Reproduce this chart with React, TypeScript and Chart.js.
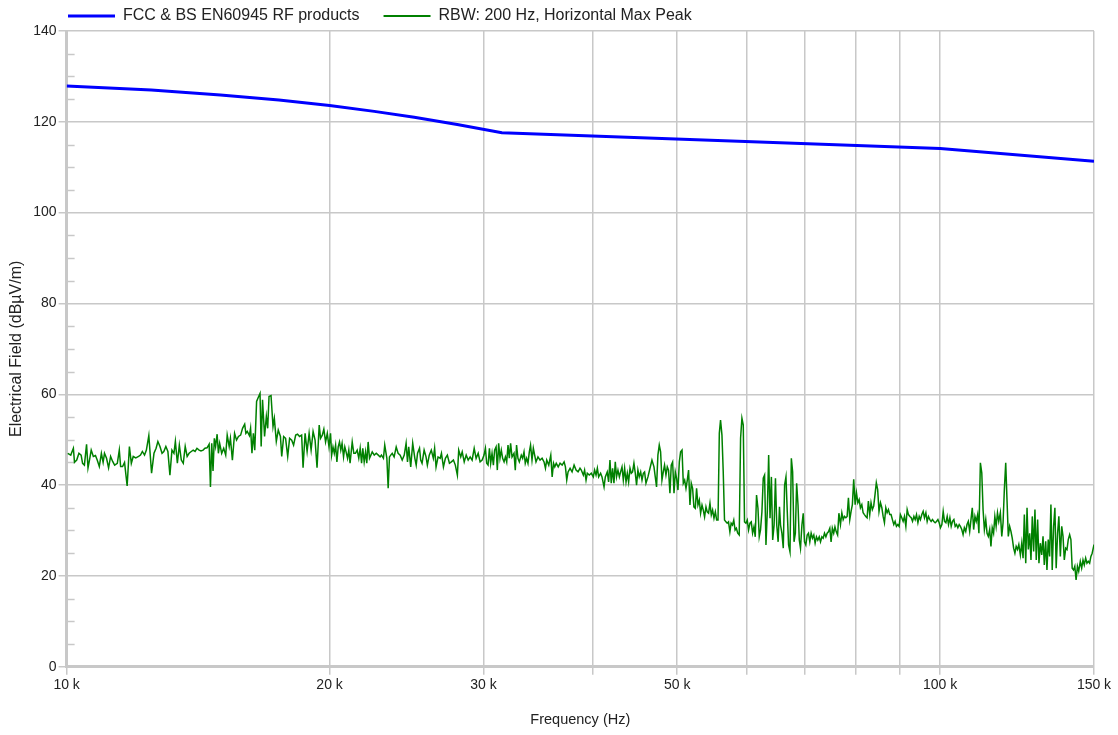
import React, { useEffect, useRef } from "react";
import { Chart, registerables } from "chart.js";

Chart.register(...registerables);

// ---------- data ----------
const limitName = "FCC & BS EN60945 RF products";
const traceName = "RBW: 200 Hz, Horizontal Max Peak";

// limit line: frequency (kHz) / level (dBµV/m)
const limitFreqKHz = [10, 12.5, 15, 17.5, 20, 22.5, 25, 28, 31.5, 100, 150];
const limitLevel = [127.9, 127.0, 125.9, 124.8, 123.6, 122.3, 121.0, 119.4, 117.6, 114.1, 111.3];

// measured trace, [frequency kHz, level dBµV/m]
const traceSeg1: [number, number][] = [
  [10.03, 47.0], [10.11, 46.6], [10.18, 48.1], [10.21, 45.0], [10.27, 45.5], [10.33, 47.0], [10.39, 46.6], [10.43, 44.8],
  [10.48, 44.4], [10.54, 49.0], [10.58, 43.8], [10.63, 45.9], [10.67, 47.7], [10.73, 46.3], [10.79, 46.5], [10.84, 45.5],
  [10.90, 44.1], [10.96, 47.0], [11.01, 45.0], [11.05, 47.0], [11.11, 45.9], [11.17, 43.8], [11.23, 46.3], [11.29, 45.2],
  [11.35, 44.4], [11.43, 44.8], [11.49, 47.7], [11.53, 44.1], [11.59, 44.1], [11.65, 45.0], [11.73, 39.8], [11.80, 48.5],
  [11.86, 44.8], [11.92, 46.3], [12.00, 46.0], [12.09, 46.3], [12.15, 46.6], [12.21, 47.4], [12.28, 46.6], [12.34, 47.7],
  [12.42, 50.9], [12.51, 42.6], [12.59, 47.0], [12.66, 48.1], [12.72, 49.6], [12.79, 48.5], [12.86, 47.0], [12.92, 47.4],
  [12.99, 48.5], [13.06, 47.4], [13.13, 42.2], [13.20, 47.7], [13.27, 47.0], [13.32, 49.6], [13.39, 44.8], [13.46, 48.8],
  [13.53, 45.5], [13.60, 44.8], [13.67, 48.5], [13.74, 46.3], [13.81, 47.0], [13.89, 47.4], [13.96, 47.7], [14.03, 47.4],
  [14.10, 48.1], [14.18, 47.7], [14.25, 47.5], [14.33, 47.7], [14.40, 48.1], [14.48, 48.2], [14.56, 49.0], [14.61, 39.6],
  [14.66, 49.2], [14.71, 43.1], [14.76, 50.3], [14.81, 48.5], [14.87, 51.2], [14.92, 47.0], [14.97, 49.2], [15.05, 47.0],
  [15.13, 48.1], [15.21, 46.6], [15.27, 51.0], [15.35, 48.5], [15.40, 50.3], [15.48, 45.5], [15.57, 51.4], [15.65, 49.9],
  [15.73, 50.7], [15.82, 51.0], [15.90, 52.5], [15.99, 53.4], [16.04, 51.4], [16.10, 51.8], [16.19, 50.9], [16.24, 52.5],
  [16.30, 47.0], [16.36, 51.4], [16.42, 47.7], [16.50, 58.4], [16.59, 59.5], [16.65, 60.2], [16.70, 48.5], [16.76, 58.8],
  [16.85, 50.7], [16.93, 55.1], [16.99, 52.5], [17.05, 59.5], [17.14, 59.7], [17.23, 52.9], [17.29, 54.7], [17.38, 49.6],
  [17.47, 52.1], [17.57, 50.7], [17.63, 46.3], [17.72, 50.7], [17.81, 50.3], [17.91, 46.3], [18.00, 50.3], [18.10, 49.9],
  [18.19, 48.8], [18.29, 51.0], [18.38, 51.2], [18.48, 50.7], [18.58, 51.0], [18.65, 43.8], [18.75, 51.4], [18.85, 47.4],
  [18.95, 51.4], [19.05, 47.7], [19.15, 51.8], [19.25, 49.9], [19.35, 43.8], [19.46, 53.2], [19.53, 50.3],
];

const traceSeg2: [number, number][] = [
  [19.62, 51.0], [19.70, 52.3], [19.79, 49.5], [19.88, 51.4], [19.97, 48.4], [20.05, 51.4], [20.11, 46.6], [20.18, 48.4],
  [20.25, 47.0], [20.32, 48.8], [20.39, 45.1], [20.46, 48.4], [20.53, 49.5], [20.60, 47.7], [20.67, 49.2], [20.75, 46.2],
  [20.82, 48.4], [20.89, 47.3], [20.97, 45.9], [21.04, 47.7], [21.11, 44.8], [21.23, 49.5], [21.32, 47.0], [21.41, 47.0],
  [21.51, 47.7], [21.60, 45.9], [21.68, 48.1], [21.76, 44.8], [21.83, 48.1], [21.91, 45.1], [21.99, 47.3], [22.06, 44.8],
  [22.14, 49.5], [22.22, 45.9], [22.30, 46.6], [22.38, 47.3], [22.50, 46.6], [22.62, 47.0], [22.74, 46.6], [22.85, 46.2],
  [22.93, 46.6], [23.05, 45.9], [23.13, 48.8], [23.26, 45.9], [23.34, 39.3], [23.42, 46.2], [23.50, 46.6], [23.59, 47.0],
  [23.71, 46.2], [23.84, 48.4], [23.96, 47.0], [24.09, 46.6], [24.22, 45.5], [24.35, 46.6], [24.47, 49.2], [24.56, 45.1],
  [24.64, 48.4], [24.77, 44.0], [24.90, 49.2], [25.04, 45.9], [25.13, 44.4], [25.22, 47.0], [25.35, 48.1], [25.43, 45.5],
  [25.52, 44.8], [25.66, 47.7], [25.79, 46.2], [25.88, 44.4], [26.01, 46.6], [26.15, 47.7], [26.29, 45.9], [26.38, 48.1],
  [26.48, 44.0], [26.62, 46.2], [26.77, 45.9], [26.86, 47.0], [27.00, 44.0], [27.14, 45.9], [27.28, 46.6], [27.43, 44.8],
  [27.57, 45.1], [27.72, 45.5], [27.86, 44.4], [28.01, 42.2], [28.11, 47.7], [28.26, 46.2], [28.37, 47.3], [28.52, 45.1],
  [28.67, 46.6], [28.82, 45.5], [28.97, 46.2], [29.12, 45.5], [29.28, 48.1], [29.43, 45.9], [29.59, 47.0], [29.74, 45.1],
  [29.90, 45.5], [30.05, 46.6], [30.16, 48.1], [30.26, 44.8], [30.37, 44.4], [30.48, 48.1], [30.58, 44.8], [30.69, 47.0],
  [30.80, 44.4], [30.90, 47.7], [31.02, 48.4], [31.12, 43.3], [31.23, 49.2], [31.34, 45.9], [31.45, 47.7], [31.56, 45.9],
  [31.68, 45.1], [31.79, 46.2], [31.90, 45.1], [32.01, 48.8], [32.12, 45.9], [32.23, 49.2], [32.35, 46.2], [32.52, 47.0],
  [32.63, 43.3], [32.74, 48.8], [32.86, 45.9], [32.98, 45.1], [33.15, 46.6], [33.27, 45.9], [33.39, 47.3], [33.50, 44.8],
  [33.62, 45.9], [33.74, 44.8], [33.86, 47.3], [33.97, 48.8], [34.10, 45.5], [34.22, 48.1], [34.34, 46.6], [34.46, 45.1],
  [34.64, 46.2], [34.83, 45.5], [35.02, 45.9], [35.20, 45.1], [35.33, 43.7], [35.45, 45.5], [35.64, 44.4], [35.83, 46.6],
  [35.96, 41.8], [36.09, 44.8], [36.21, 44.0], [36.35, 44.8], [36.54, 44.0], [36.72, 44.8], [36.92, 44.4], [37.11, 45.1],
  [37.24, 44.0], [37.37, 41.1], [37.50, 42.9], [37.70, 43.7], [37.90, 42.9], [38.10, 44.4], [38.30, 43.3], [38.50, 42.9],
  [38.70, 43.7],
];

const traceSeg3: [number, number][] = [
  [38.83, 43.3], [39.04, 42.2], [39.17, 43.3], [39.32, 41.1], [39.45, 42.6], [39.66, 42.2], [39.87, 42.6], [40.08, 41.8],
  [40.22, 43.3], [40.37, 42.2], [40.51, 43.7], [40.65, 41.8], [40.86, 42.6], [41.01, 41.8], [41.23, 39.6], [41.37, 41.8],
  [41.58, 42.9], [41.73, 40.7], [41.88, 45.5], [42.02, 40.4], [42.17, 43.7], [42.32, 40.4], [42.47, 45.1], [42.61, 41.8],
  [42.77, 43.3], [42.93, 41.8], [43.07, 42.9], [43.23, 44.0], [43.38, 41.1], [43.53, 43.7], [43.69, 40.7], [43.84, 42.6],
  [43.99, 40.7], [44.15, 43.7], [44.30, 42.6], [44.45, 42.9], [44.61, 44.8], [44.77, 42.6], [44.92, 40.0], [45.08, 43.3],
  [45.24, 41.8], [45.41, 42.9], [45.57, 41.1], [45.73, 42.6], [45.88, 42.9], [46.05, 40.4], [46.29, 41.8], [46.54, 43.7],
  [46.78, 45.5], [47.03, 44.0], [47.19, 41.8], [47.35, 39.6], [47.52, 46.6], [47.69, 48.8], [47.86, 47.3], [48.03, 41.1],
  [48.20, 42.9], [48.36, 44.4], [48.54, 42.2], [48.71, 44.0], [48.87, 43.3], [49.05, 38.2], [49.22, 44.4], [49.40, 45.1],
  [49.58, 38.2], [49.75, 42.9], [49.92, 41.5], [50.10, 38.9], [50.28, 45.1], [50.45, 47.3], [50.64, 47.7], [50.81, 40.4],
  [50.99, 41.1], [51.17, 39.3], [51.35, 41.1], [51.52, 43.3], [51.71, 35.6], [51.89, 40.4], [52.07, 39.3], [52.25, 35.2],
  [52.44, 34.9], [52.62, 39.3], [52.81, 35.6], [53.00, 36.7], [53.18, 33.8], [53.38, 35.6], [53.56, 34.5], [53.74, 33.0],
  [53.94, 35.2], [54.12, 34.1], [54.31, 33.8], [54.51, 36.0], [54.70, 33.4], [54.89, 34.5], [55.09, 32.7], [55.29, 34.1],
  [55.48, 32.3], [55.68, 32.3], [55.87, 51.4], [56.05, 54.3], [56.26, 51.0], [56.45, 42.9], [56.64, 32.3], [56.85, 31.9],
  [57.04, 31.6], [57.24, 31.9], [57.45, 29.7], [57.64, 31.6], [57.84, 31.2], [58.04, 32.3], [58.24, 30.1], [58.44, 30.5],
  [58.65, 29.4], [58.88, 29.0], [59.09, 50.3], [59.30, 54.7], [59.51, 53.2], [59.71, 31.9], [59.93, 31.6], [60.14, 32.3],
  [60.35, 30.1], [60.57, 31.6], [60.78, 31.9], [60.99, 29.4], [61.21, 30.8], [61.42, 28.6], [61.63, 37.8], [61.86, 34.9],
  [62.07, 28.6], [62.28, 30.1], [62.51, 34.1], [62.73, 41.5], [62.95, 42.2], [63.18, 26.8], [63.40, 34.1], [63.63, 46.6],
  [63.86, 32.7], [64.09, 41.8], [64.31, 27.9], [64.55, 31.2], [64.78, 41.5], [65.00, 31.2], [65.24, 27.5], [65.47, 35.2],
  [65.65, 31.2], [65.89, 29.4], [66.13, 26.1], [66.36, 40.0], [66.60, 41.8], [66.83, 34.1], [67.06, 26.8], [67.31, 25.3],
  [67.55, 45.9], [67.78, 42.9], [68.03, 27.5], [68.27, 29.4], [68.50, 40.4], [68.75, 35.6], [68.98, 27.9], [69.20, 26.1],
  [69.46, 31.2], [69.70, 33.8], [69.93, 27.5], [70.18, 26.8], [70.43, 29.0], [70.67, 29.4], [70.92, 27.5], [71.17, 29.4],
  [71.42, 28.3], [71.67, 29.0], [71.92, 27.2], [72.17, 28.6], [72.43, 27.9], [72.70, 28.6], [72.95, 27.5], [73.21, 28.6],
  [73.46, 28.3], [73.72, 29.4], [73.99, 28.6], [74.24, 29.4], [74.49, 29.7], [74.76, 30.5], [75.01, 27.5], [75.26, 30.5],
  [75.53, 29.4], [75.78, 30.8], [76.04, 29.7], [76.31, 29.0], [76.57, 33.8],
];

const traceSeg4: [number, number][] = [
  [76.89, 31.3], [77.17, 33.9], [77.44, 32.4], [77.70, 33.1], [77.99, 32.8], [78.25, 33.1], [78.52, 37.2], [78.80, 32.4],
  [79.07, 34.2], [79.34, 35.7], [79.62, 41.3], [79.92, 35.7], [80.20, 38.3], [80.49, 36.1], [80.77, 36.8], [81.04, 35.0],
  [81.34, 35.7], [81.62, 33.9], [81.90, 33.5], [82.20, 33.1], [82.48, 32.8], [82.76, 36.5], [83.06, 33.5], [83.34, 36.1],
  [83.63, 34.6], [83.93, 35.4], [84.22, 37.9], [84.51, 40.5], [84.81, 39.0], [85.11, 34.2], [85.44, 36.1], [85.75, 35.0],
  [86.04, 33.1], [86.34, 31.7], [86.65, 35.0], [86.95, 33.9], [87.25, 34.6], [87.56, 33.5], [87.86, 33.5], [88.17, 32.4],
  [88.49, 31.3], [88.80, 32.0], [89.11, 30.9], [89.43, 31.3], [89.74, 30.9], [90.05, 33.5], [90.38, 32.8], [90.70, 32.0],
  [91.02, 33.1], [91.35, 30.9], [91.67, 34.6], [91.98, 33.5], [92.33, 33.1], [92.65, 32.8], [92.97, 32.0], [93.31, 33.1],
  [93.63, 32.4], [93.95, 33.5], [94.30, 31.7], [94.62, 33.1], [94.93, 32.4], [95.28, 33.5], [95.61, 34.2], [95.94, 32.8],
  [96.30, 33.9], [96.63, 32.0], [96.96, 33.1], [97.32, 32.4], [97.65, 32.0], [97.99, 32.4], [98.35, 32.0], [98.69, 31.7],
  [99.03, 32.0], [99.40, 32.4], [99.74, 31.7], [100.08, 30.6], [100.45, 31.3], [100.80, 34.2], [101.15, 32.0], [101.52, 31.7],
  [101.87, 33.1], [102.22, 31.3], [102.59, 32.8], [102.95, 30.9], [103.30, 32.0], [103.68, 32.4], [104.04, 30.9], [104.40, 31.3],
  [104.77, 30.6], [105.14, 31.3], [105.47, 30.9], [105.86, 30.2], [106.22, 29.1], [106.58, 30.6], [106.97, 29.8], [107.33, 31.3],
  [107.70, 32.0], [108.09, 29.8], [108.46, 32.4], [108.83, 35.0], [109.23, 30.2], [109.60, 33.1], [109.97, 32.0], [110.38, 33.5],
  [110.75, 29.4], [111.18, 44.9], [111.59, 42.7], [111.97, 34.6], [112.36, 30.2], [112.77, 32.4], [113.15, 29.4], [113.53, 28.7],
  [113.94, 30.2], [114.32, 26.5], [114.71, 30.6], [115.12, 29.4], [115.50, 33.1], [115.89, 30.9], [116.31, 33.9], [116.70, 32.0],
  [117.19, 33.9], [117.63, 28.7], [118.03, 31.7], [118.43, 39.0], [118.86, 44.9], [119.26, 36.8], [119.67, 28.7], [120.10, 30.9],
  [120.51, 29.8], [120.92, 28.3], [121.36, 26.1], [121.77, 25.0], [122.18, 26.5], [122.62, 25.8], [123.04, 26.9], [123.54, 24.6],
  [123.99, 27.2], [124.42, 23.9], [124.84, 33.5], [125.30, 22.8], [125.73, 35.0], [126.16, 25.8], [126.61, 29.4], [127.04, 23.5],
  [127.48, 33.1], [127.94, 25.4], [128.38, 34.6], [128.82, 23.5], [129.29, 32.4], [129.74, 22.8], [130.21, 27.2], [130.69, 24.6],
  [131.14, 28.7], [131.58, 22.4], [132.06, 27.6], [132.51, 21.3], [132.96, 28.0], [133.44, 24.3], [133.90, 35.7], [134.36, 21.3],
  [134.85, 30.9], [135.31, 35.0], [135.77, 21.7], [136.27, 29.4], [136.73, 33.1], [137.26, 24.3], [137.77, 30.9], [138.24, 28.7],
  [138.71, 23.5], [139.22, 26.1], [139.69, 25.8], [140.16, 28.0], [140.67, 29.1], [141.14, 28.0], [141.62, 21.7], [142.13, 21.3],
  [142.60, 22.1], [143.08, 19.1], [143.59, 22.1], [144.07, 21.0], [144.68, 23.2], [145.21, 21.7], [145.71, 23.5], [146.20, 22.4],
  [146.74, 23.9], [147.24, 22.8], [147.74, 23.2], [148.28, 22.8], [148.78, 24.3], [149.28, 25.0], [150.00, 26.9],
];

// axis ticks
const xTickValues = [10000, 20000, 30000, 40000, 50000, 60000, 70000, 80000, 90000, 100000, 150000];
const xLabelledTicks = [10000, 20000, 30000, 50000, 100000, 150000];
const yMin = 0;
const yMax = 140;
const yMajorStep = 20;
const yMinorStep = 5;

// ---------- styling ----------
const FONT = "'Liberation Sans', Arial, sans-serif";
const GRID = "#c8c8c8";
const TEXT = "#222222";
const LIMIT_COLOR = "#0000ff";
const TRACE_COLOR = "#008000";

const minorTickPlugin = {
  id: "minorTicks",
  beforeDatasetsDraw(chart: any) {
    const y = chart.scales.y;
    const ctx = chart.ctx;
    const left = chart.chartArea.left;
    ctx.save();
    ctx.strokeStyle = GRID;
    ctx.lineWidth = 1.5;
    for (let v = yMin + yMinorStep; v < yMax; v += yMinorStep) {
      if (v % yMajorStep === 0) continue;
      const py = Math.round(y.getPixelForValue(v)) + 0.5;
      ctx.beginPath();
      ctx.moveTo(left, py);
      ctx.lineTo(left + 8, py);
      ctx.stroke();
    }
    ctx.restore();
  },
};

const legendPlugin = {
  id: "topLegend",
  afterDraw(chart: any) {
    const ctx = chart.ctx;
    const cy = 16;
    ctx.save();
    ctx.font = `16px ${FONT}`;
    ctx.textBaseline = "middle";
    ctx.textAlign = "left";
    let x = 68;
    chart.data.datasets.forEach((ds: any, i: number) => {
      ctx.strokeStyle = ds.borderColor;
      ctx.lineWidth = i === 0 ? 3 : 2;
      ctx.beginPath();
      ctx.moveTo(x, cy);
      ctx.lineTo(x + 47, cy);
      ctx.stroke();
      ctx.fillStyle = TEXT;
      ctx.fillText(ds.label, x + 55, cy);
      x = x + 55 + ctx.measureText(ds.label).width + 24;
    });
    ctx.restore();
  },
};

export default function App() {
  const ref = useRef<HTMLCanvasElement>(null);
  useEffect(() => {
    if (!ref.current) return;
    const trace = [...traceSeg1, ...traceSeg2, ...traceSeg3, ...traceSeg4].map(([f, v]) => ({ x: f * 1000, y: v }));
    const limit = limitFreqKHz.map((f, i) => ({ x: f * 1000, y: limitLevel[i] }));
    const chart = new Chart(ref.current, {
      type: "line",
      data: {
        datasets: [
          {
            label: limitName,
            data: limit,
            borderColor: LIMIT_COLOR,
            backgroundColor: LIMIT_COLOR,
            borderWidth: 3,
            pointRadius: 0,
            tension: 0,
          },
          {
            label: traceName,
            data: trace,
            borderColor: TRACE_COLOR,
            backgroundColor: TRACE_COLOR,
            borderWidth: 1.5,
            pointRadius: 0,
            tension: 0,
          },
        ],
      },
      options: {
        animation: false,
        responsive: false,
        maintainAspectRatio: false,
        events: [],
        layout: { padding: { top: 31, right: 24, bottom: 0, left: 0 } },
        plugins: { legend: { display: false }, tooltip: { enabled: false } },
        scales: {
          x: {
            type: "logarithmic",
            min: 10000,
            max: 150000,
            afterBuildTicks: (scale: any) => {
              scale.ticks = xTickValues.map((v) => ({ value: v }));
            },
            ticks: {
              autoSkip: false,
              maxRotation: 0,
              minRotation: 0,
              padding: 2,
              color: TEXT,
              font: { family: FONT, size: 14 },
              callback: (value: any) => {
                const v = Number(value);
                return xLabelledTicks.includes(v) ? `${v / 1000} k` : "";
              },
            },
            grid: { color: GRID, lineWidth: 1.5, tickLength: 8, drawTicks: true },
            border: { color: GRID, width: 3 },
            title: {
              display: true,
              text: "Frequency (Hz)",
              color: TEXT,
              font: { family: FONT, size: 14.5 },
              padding: { top: 15.8, bottom: 6.3 },
            },
          },
          y: {
            min: yMin,
            max: yMax,
            ticks: {
              stepSize: yMajorStep,
              padding: 2,
              color: TEXT,
              font: { family: FONT, size: 14 },
            },
            grid: { color: GRID, lineWidth: 1.5, tickLength: 8, drawTicks: true },
            border: { color: GRID, width: 3 },
            title: {
              display: true,
              text: "Electrical Field (dBµV/m)",
              color: TEXT,
              font: { family: FONT, size: 16 },
              padding: { top: 7.4, bottom: 4.65 },
            },
          },
        },
      },
      plugins: [minorTickPlugin, legendPlugin],
    } as any);
    return () => chart.destroy();
  }, []);
  return (
    <canvas
      ref={ref}
      width={1118}
      height={735}
      style={{ position: "fixed", left: 0, top: 0, width: 1118, height: 735 }}
    />
  );
}
